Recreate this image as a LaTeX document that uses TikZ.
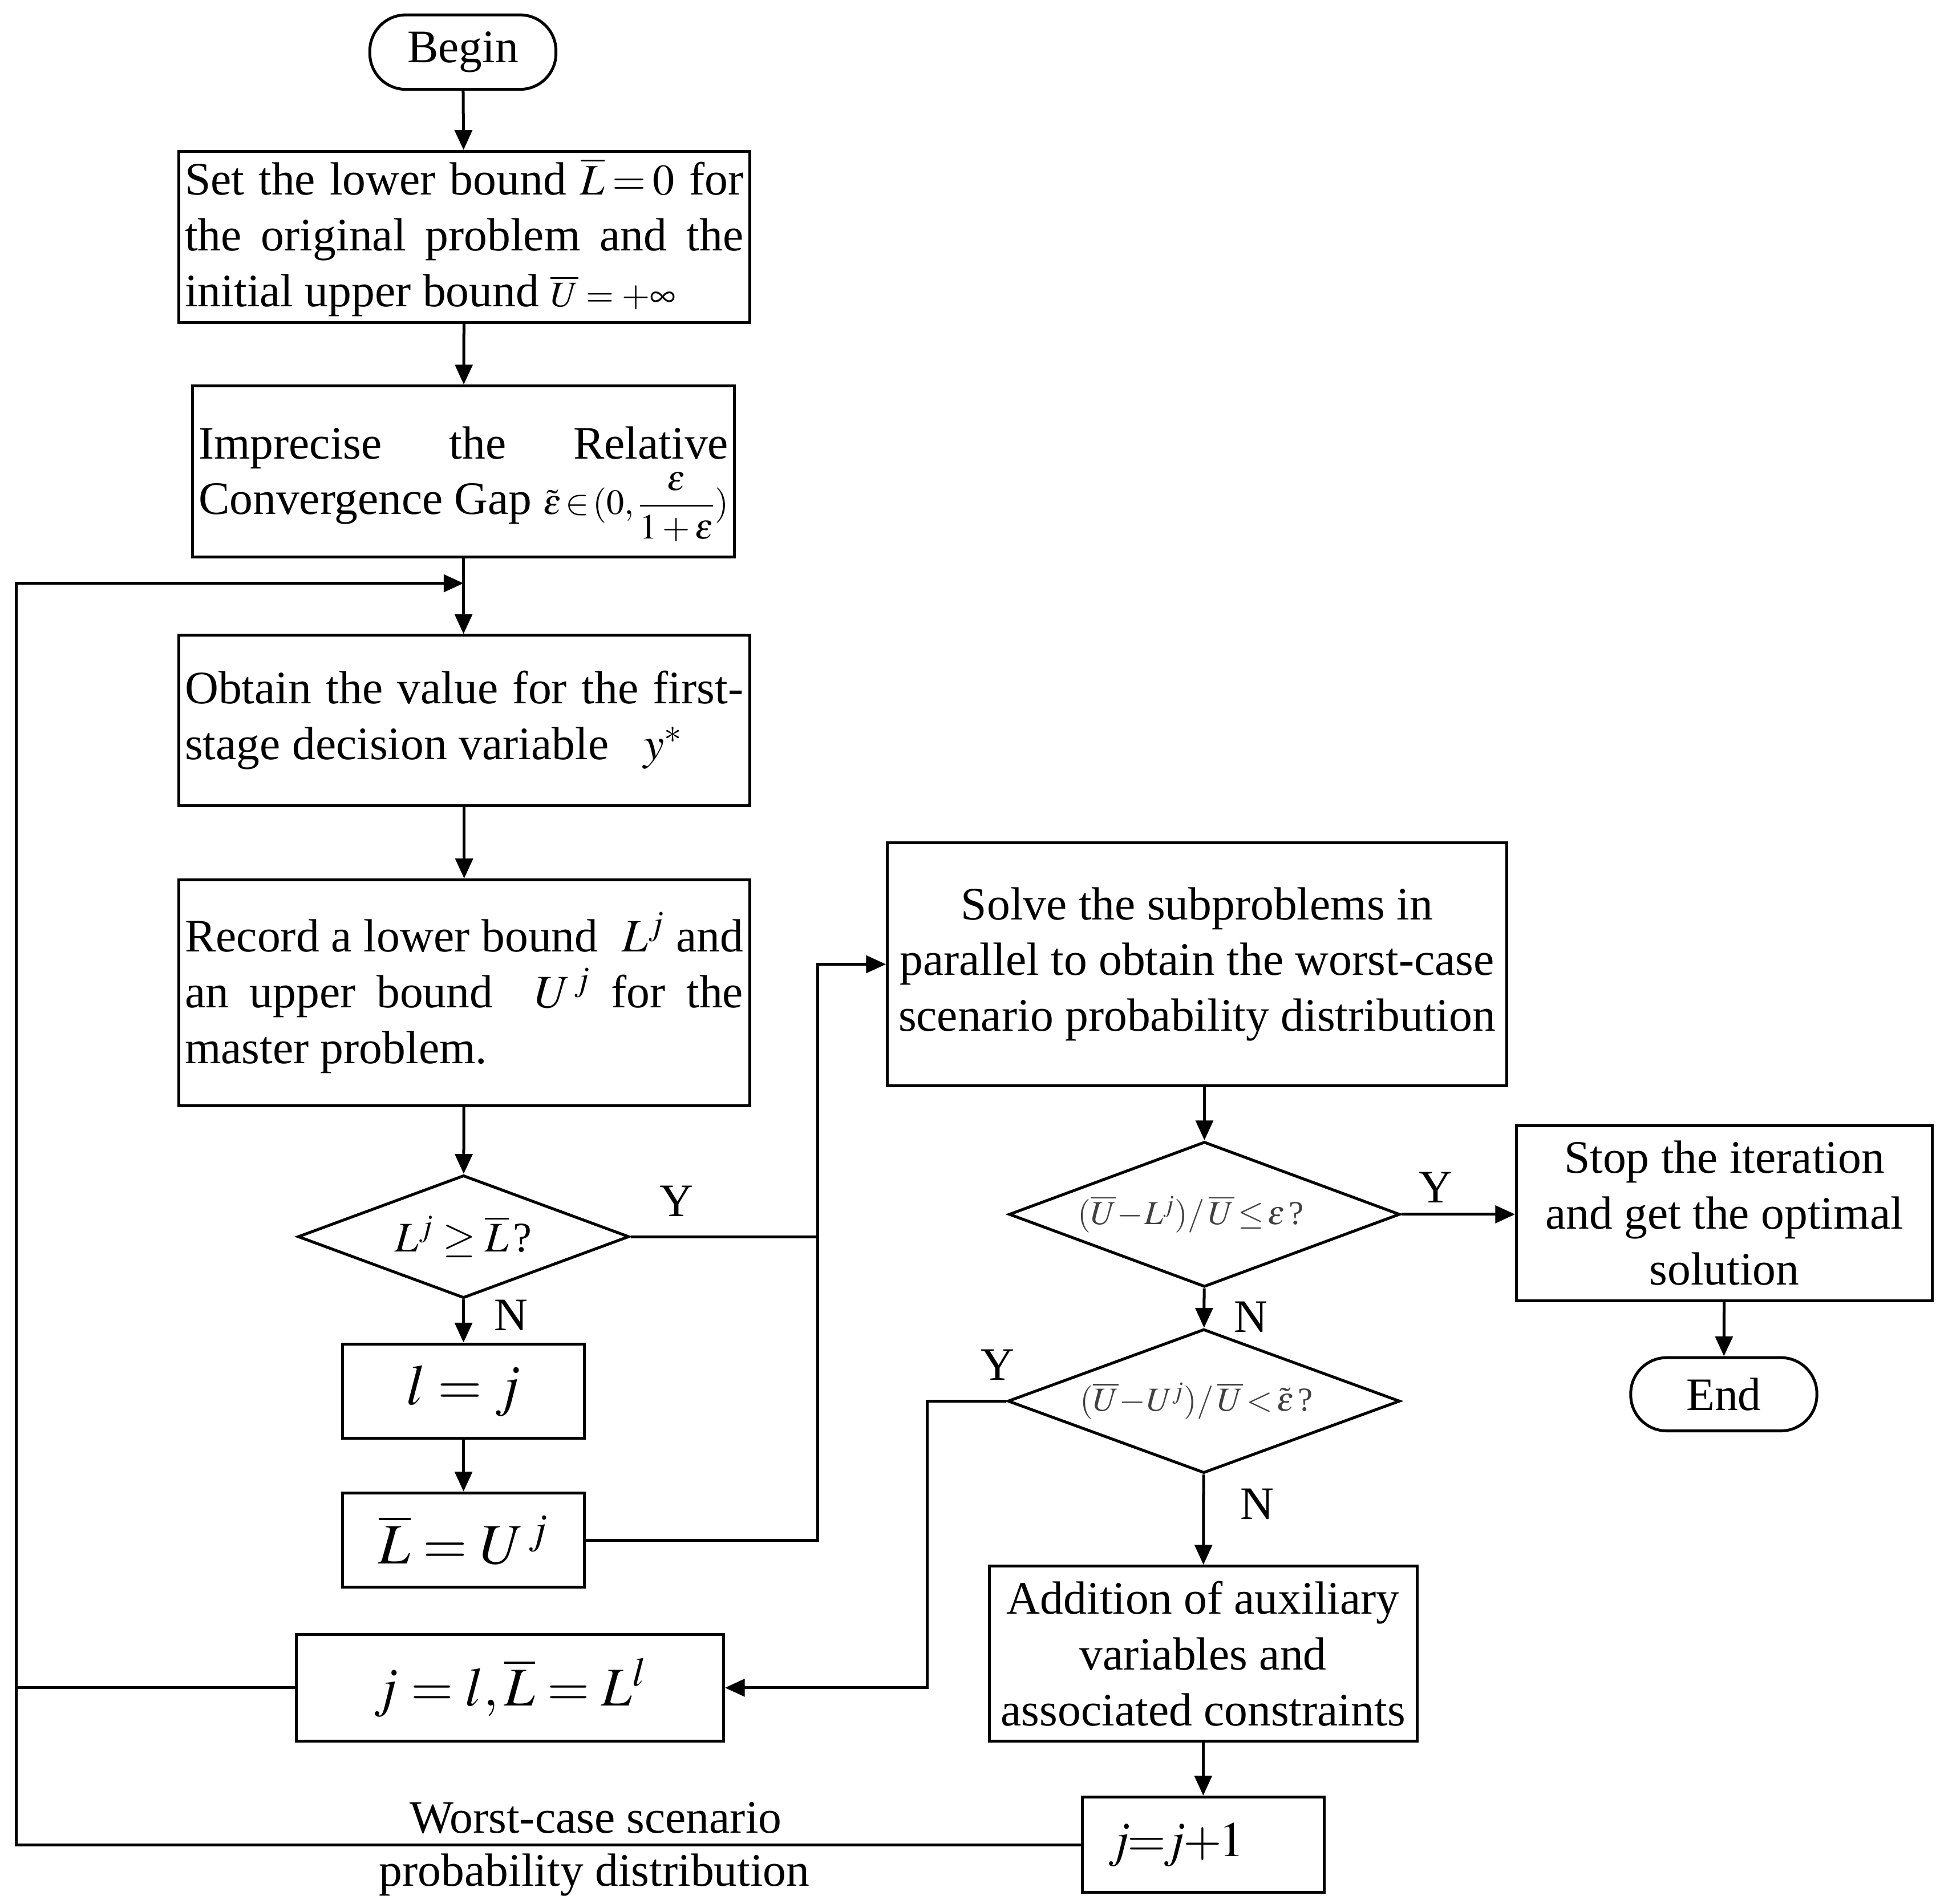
\documentclass[tikz,border=0pt]{standalone}
\usepackage{amsmath}
\usepackage{mathptmx}
\usepackage{fontspec}
\setmainfont{Liberation Serif}
\usetikzlibrary{arrows.meta,shapes.geometric}
\tikzset{
  txt/.style={font=\fontsize{37.5}{45}\selectfont},
  box/.style={draw, line width=2.3pt, rectangle, inner xsep=5pt, inner ysep=0pt, align=center, txt},
  term/.style={box, rounded corners=29pt},
  dec/.style={draw, line width=2.3pt, diamond, aspect=2.7, inner sep=0pt},
  conn/.style={line width=2.3pt},
  arr/.style={conn, -{Triangle[length=16pt,width=14pt]}},
  lab/.style={txt, inner sep=0pt},
}
\begin{document}
\begin{tikzpicture}[x=1pt,y=-1pt]
\fill[white] (0,0) rectangle (1560,1533.8);
\useasboundingbox (0,0) rectangle (1560,1533.8);

% left column
\node[term, minimum width=150pt, minimum height=60pt] (begin) at (373,42) {Begin};
\node[box, minimum width=460pt, minimum height=138pt] (b1) at (374,191) {%
\makebox[450pt][s]{Set the lower bound {\fontsize{35}{35}\selectfont$\overline{L}\mkern3mu{=}\mkern3mu0$} for}\\
\makebox[450pt][s]{the original problem and the}\\
\makebox[450pt][l]{initial upper bound {\fontsize{29}{29}\selectfont$\overline{U}=+\infty$}}};
\node[box, minimum width=437pt, minimum height=138pt] (b2) at (373.5,380) {%
\makebox[427pt][s]{\rule{0pt}{46pt}Imprecise the Relative}\\
\makebox[427pt][s]{Convergence Gap {\fontsize{28.5}{28.5}\selectfont$\tilde{\varepsilon}\mkern2mu{\in}\mkern2mu(0,\dfrac{\varepsilon}{1+\varepsilon})$}}};
\node[box, minimum width=460pt, minimum height=137pt] (b3) at (374,580.5) {%
\makebox[450pt][s]{Obtain the value for the first-}\\
\makebox[450pt][l]{stage decision variable \ \ $y^{*}$}};
\node[box, minimum width=460pt, minimum height=182pt] (b4) at (374,800) {%
\makebox[450pt][s]{Record a lower bound \ $L^{j}$ and}\\
\makebox[450pt][s]{an upper bound \ $U^{\,j}$ for the}\\
\makebox[450pt][l]{master problem.}};
\node[dec, minimum width=267pt, minimum height=99pt, font=\fontsize{34}{34}\selectfont] (d1) at (373.5,996.5) {$L^{j}\ge\overline{L}\,$?};
\node[box, minimum width=195pt, minimum height=76pt, font=\fontsize{46}{46}\selectfont] (lj) at (373.5,1121) {$l=j$};
\node[box, minimum width=195pt, minimum height=76pt, font=\fontsize{46}{46}\selectfont] (lu) at (373.5,1241) {$\overline{L}=U^{\,j}$};
\node[box, minimum width=344pt, minimum height=86pt, font=\fontsize{44}{44}\selectfont] (jl) at (411,1360) {$j=l,\overline{L}=L^{l}$};

% right column
\node[box, minimum width=499pt, minimum height=196pt] (solve) at (964.5,777) {%
Solve the subproblems in\\
parallel to obtain the worst-case\\
scenario probability distribution};
\node[dec, minimum width=315pt, minimum height=117pt, font=\fontsize{27}{27}\selectfont, text=black!75] (d2) at (970.5,978.5) {$(\overline{U}\mkern-2mu-\mkern-2mu L^{j})/\,\overline{U}\mkern-2mu\le\mkern-2mu\varepsilon\,$?\hspace*{22pt}};
\node[box, minimum width=335pt, minimum height=141pt] (stop) at (1389.5,977.5) {%
Stop the iteration\\
and get the optimal\\
solution};
\node[term, minimum width=150pt, minimum height=59pt] (end) at (1389,1123.5) {End};
\node[dec, minimum width=316pt, minimum height=116pt, font=\fontsize{27}{27}\selectfont, text=black!75] (d3) at (970,1129) {$(\overline{U}\mkern-2mu-\mkern-2mu U^{j})/\,\overline{U}\mkern-2mu<\mkern-2mu\tilde{\varepsilon}\,$?\hspace*{12pt}};
\node[box, minimum width=345pt, minimum height=141pt] (add) at (969.5,1332.5) {%
Addition of auxiliary\\
variables and\\
associated constraints};
\node[box, minimum width=195pt, minimum height=77pt] (jj) at (969.5,1486.5) {\hspace*{-44pt}{\fontsize{40}{40}\selectfont$j\mkern-1mu{=}\mkern-1mu j\mkern-1mu{+}\mkern-1mu1$}};

% helper coordinates
\coordinate (vx) at (659,0);
\coordinate (yx) at (747,0);
\coordinate (lx) at (13,470);

% connectors
\draw[arr] (begin) -- (b1);
\draw[arr] (b1) -- (b2);
\draw[arr] (b2.south) -- (b2.south |- b3.north);
\draw[arr] (b3) -- (b4);
\draw[arr] (b4) -- (d1);
\draw[arr] (d1) -- (lj);
\draw[arr] (lj) -- (lu);
\draw[conn] (d1.east) -- (d1.east -| vx);
\draw[arr] (lu.east) -- (lu.east -| vx) -- (vx |- solve.west) -- (solve.west);
\draw[arr] (solve.south -| d2.north) -- (d2.north);
\draw[arr] (d2.east) -- (d2.east -| stop.west);
\draw[arr] (stop) -- (end);
\draw[arr] (d2) -- (d3);
\draw[arr] (d3) -- (add);
\draw[arr] (add) -- (jj);
\draw[arr] (d3.west) -- (d3.west -| yx) -- (yx |- jl.east) -- (jl.east);
\draw[conn] (jl.west) -- (jl.west -| lx);
\draw[arr] (jj.west) -- (jj.west -| lx) -- (lx) -- (lx -| b2.south);

% labels
\node[lab] (y1) at (545,968) {Y};
\node[lab] (n1) at (412,1060) {N};
\node[lab] (y2) at (1157,957) {Y};
\node[lab] (n2) at (1008,1061) {N};
\node[lab] (y3) at (804,1100) {Y};
\node[lab] (n3) at (1013,1212) {N};
\node[lab] (w1) at (480,1465) {Worst-case scenario};
\node[lab] (w2) at (479,1511) {probability distribution};
\end{tikzpicture}
\end{document}
